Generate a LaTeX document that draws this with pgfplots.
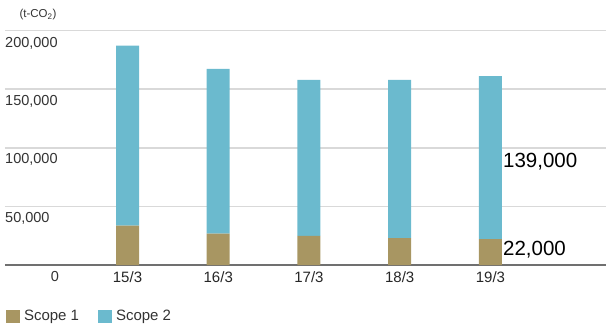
\documentclass[border=0pt]{standalone}
\usepackage{pgfplots}
\pgfplotsset{compat=1.18}
\usepackage{fontspec}
\setmainfont{Liberation Sans}
\definecolor{scopeone}{RGB}{168,150,98}
\definecolor{scopetwo}{RGB}{107,186,206}
\definecolor{gridc}{RGB}{217,217,217}
\definecolor{basec}{RGB}{112,112,112}
\definecolor{txt}{RGB}{51,51,51}
\begin{document}
\begin{tikzpicture}
\path[use as bounding box] (0,0) rectangle (606pt,327pt);
\begin{axis}[
  at={(5pt,62pt)}, anchor=south west,
  scale only axis, width=601pt, height=234.5pt,
  xmin=-1.35, xmax=5.273, ymin=0, ymax=200000,
  scaled y ticks=false,
  ybar stacked, bar width=23pt,
  axis y line*=left, y axis line style={draw=none},
  axis x line*=bottom,
  x axis line style={draw=basec, line width=1.6pt},
  xtick={0,1,2,3,4}, xticklabels={15/3,16/3,17/3,18/3,19/3},
  x tick label style={anchor=center, yshift=-12pt, font=\fontsize{15}{18}\selectfont, text=black!85},
  major tick length=0pt,
  ytick={50000,100000,150000,200000}, yticklabels={},
  ymajorgrids, grid style={draw=gridc, line width=1.5pt},
  clip=false,
  legend style={draw=none, fill=none, at={(axis cs:-1.35,0)}, anchor=west, yshift=-51pt, xshift=1pt,
    inner sep=0pt, outer sep=0pt, legend columns=2,
    font=\fontsize{15}{18}\selectfont, text=txt,
    /tikz/every odd column/.append style={column sep=2pt},
    /tikz/every even column/.append style={column sep=17pt},
    legend cell align=left},
  legend image code/.code={\fill[#1] (0pt,-6.5pt) rectangle (14pt,6.5pt);},
]
\addplot[fill=scopeone, draw=none] coordinates {(0,33500) (1,26700) (2,24800) (3,23000) (4,22000)};
\addplot[fill=scopetwo, draw=none] coordinates {(0,153700) (1,140600) (2,133100) (3,134900) (4,139000)};
\legend{Scope 1, Scope 2}
\node[anchor=west, inner sep=0pt, text=txt, font=\fontsize{14.5}{17}\selectfont] at (axis cs:-1.35,200000) [yshift=-13pt] {200,000};
\node[anchor=west, inner sep=0pt, text=txt, font=\fontsize{14.5}{17}\selectfont] at (axis cs:-1.35,150000) [yshift=-12pt] {150,000};
\node[anchor=west, inner sep=0pt, text=txt, font=\fontsize{14.5}{17}\selectfont] at (axis cs:-1.35,100000) [yshift=-12pt] {100,000};
\node[anchor=west, inner sep=0pt, text=txt, font=\fontsize{14.5}{17}\selectfont] at (axis cs:-1.35,50000) [yshift=-12pt] {50,000};
\node[anchor=center, inner sep=0pt, text=txt, font=\fontsize{14.5}{17}\selectfont] at (axis cs:-0.799,0) [yshift=-12pt] {0};
\node[anchor=west, inner sep=0pt, text=black, font=\fontsize{20.5}{24}\selectfont] at (axis cs:4,88000) [xshift=12.5pt] {139,000};
\node[anchor=west, inner sep=0pt, text=black, font=\fontsize{20.5}{24}\selectfont] at (axis cs:4,12800) [xshift=12.5pt] {22,000};
\node[anchor=center, inner sep=0pt, text=txt, font=\fontsize{11.5}{14}\selectfont] at (axis cs:-1.35,200000) [xshift=33pt, yshift=15.5pt] {(t-CO\textsubscript{2})};
\end{axis}
\end{tikzpicture}
\end{document}
